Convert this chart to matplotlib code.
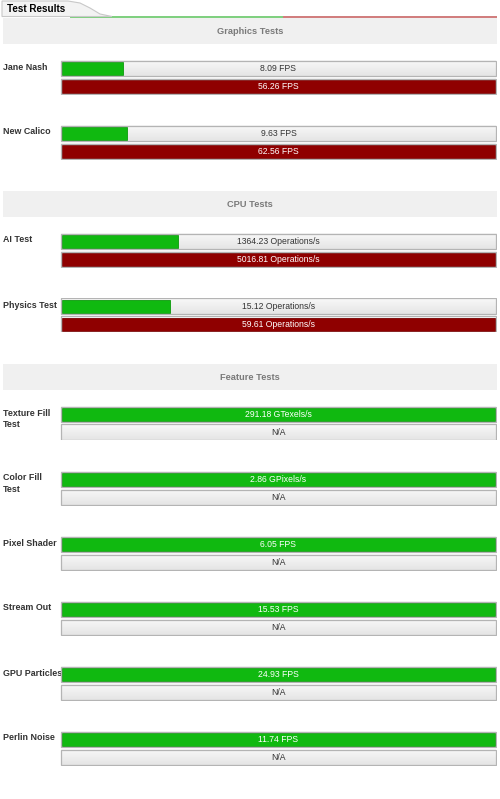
import matplotlib
matplotlib.use("Agg")
import matplotlib.pyplot as plt
import numpy as np
from matplotlib.patches import Polygon, Rectangle

# ---------------- data ----------------
title = "Test Results"
sections = ["Graphics Tests", "CPU Tests", "Feature Tests"]

graphics_tests = ["Jane Nash", "New Calico"]
graphics_yours = [8.09, 9.63]
graphics_ref = [56.26, 62.56]
graphics_units = ["FPS", "FPS"]

cpu_tests = ["AI Test", "Physics Test"]
cpu_yours = [1364.23, 15.12]
cpu_ref = [5016.81, 59.61]
cpu_units = ["Operations/s", "Operations/s"]

feature_tests = ["Texture Fill\nTest", "Color Fill\nTest", "Pixel Shader",
                 "Stream Out", "GPU Particles", "Perlin Noise"]
feature_yours = [291.18, 2.86, 6.05, 15.53, 24.93, 11.74]
feature_ref = [None, None, None, None, None, None]
feature_units = ["GTexels/s", "GPixels/s", "FPS", "FPS", "FPS", "FPS"]

groups = [
    (sections[0], graphics_tests, graphics_yours, graphics_ref, graphics_units),
    (sections[1], cpu_tests, cpu_yours, cpu_ref, cpu_units),
    (sections[2], feature_tests, feature_yours, feature_ref, feature_units),
]

# ---------------- style ----------------
W, H = 500, 799
FONT = ["Liberation Sans", "DejaVu Sans"]
GREEN = "#10b910"
GREEN_EDGE = "#0b9a0b"
RED = "#8f0000"
RED_EDGE = "#7a0000"
TRACK_EDGE = "#b4b4b4"
HEADER_BG = "#f0f0f0"
TRACK_X0, TRACK_X1 = 61, 496
BAR_H = 15.5
BAR_GAP = 2.5

plt.rcParams["font.family"] = FONT

fig = plt.figure(figsize=(W / 100, H / 100), dpi=100)
fig.patch.set_facecolor("white")
base = fig.add_axes([0, 0, 1, 1])
base.set_xlim(0, W)
base.set_ylim(H, 0)
base.axis("off")

# ---------------- tab header ----------------
tab_poly = Polygon([(2, 16.5), (2, 1), (68, 1), (80, 3), (90, 8), (100, 14), (112, 16.5)],
                   closed=True, facecolor="#f3f3f3", edgecolor="#c8c8c8", lw=0.8, zorder=2)
base.add_patch(tab_poly)
base.text(7, 8.5, title, fontsize=7.1, fontweight="bold", color="#000000",
          va="center", ha="left", zorder=3)
base.plot([70, 283], [16.5, 16.5], color="#7dcf7d", lw=1.4, solid_capstyle="butt", zorder=1)
base.plot([283, 497], [16.5, 16.5], color="#d07b7b", lw=1.4, solid_capstyle="butt", zorder=1)

grad = np.linspace(0, 1, 32).reshape(-1, 1)
track_cmap = matplotlib.colors.LinearSegmentedColormap.from_list("t", ["#f8f8f8", "#e5e5e5"])


def track(ax, xmax, yc):
    top, bot = yc - BAR_H / 2, yc + BAR_H / 2
    ax.imshow(grad, extent=(0, xmax, bot, top), cmap=track_cmap, aspect="auto",
              zorder=1, interpolation="bilinear")
    ax.add_patch(Rectangle((0, top), xmax, BAR_H, facecolor="none",
                           edgecolor=TRACK_EDGE, lw=0.9, zorder=3))


def fill_bar(ax, value, yc, px, color, edge):
    ax.barh(yc, value - 2 * px, left=px, height=BAR_H - 2.5,
            color=color, edgecolor=edge, lw=0.6, zorder=2)


y = 18
for gi, (sec, names, yours, refs, units) in enumerate(groups):
    base.add_patch(Rectangle((3, y), 494, 26, facecolor=HEADER_BG, edgecolor="none", zorder=1))
    base.text(250, y + 13.5, sec, fontsize=6.7, fontweight="bold", color="#7a7a7a",
              ha="center", va="center", zorder=2)
    row_top = y + 42
    for i, (name, v, r, u) in enumerate(zip(names, yours, refs, units)):
        rt = row_top + i * 65
        base.text(3, rt + 2.5, name, fontsize=6.4, fontweight="bold", color="#333333",
                  ha="left", va="top", linespacing=1.35, zorder=2)
        vmax = max(v, r) if r is not None else v
        total_h = 2 * BAR_H + BAR_GAP + 1
        span = TRACK_X1 - TRACK_X0
        px = vmax / span
        ax = fig.add_axes([(TRACK_X0 - 1) / W, 1 - (rt + total_h) / H,
                           (span + 2) / W, total_h / H])
        ax.set_xlim(-px, vmax + px)
        ax.set_ylim(total_h, 0)
        ax.axis("off")
        ax.patch.set_alpha(0)
        yc1 = BAR_H / 2 + 0.5
        yc2 = BAR_H + BAR_GAP + BAR_H / 2 + 0.5
        track(ax, vmax, yc1)
        track(ax, vmax, yc2)
        fill_bar(ax, v, yc1, px, GREEN, GREEN_EDGE)
        full_green = v >= vmax
        ax.text(vmax / 2, yc1 + 0.5, f"{v:.2f} {u}", fontsize=6.2,
                color="white" if full_green else "#333333",
                ha="center", va="center", zorder=4)
        if r is not None:
            fill_bar(ax, r, yc2, px, RED, RED_EDGE)
            ax.text(vmax / 2, yc2 + 0.5, f"{r:.2f} {u}", fontsize=6.2, color="white",
                    ha="center", va="center", zorder=4)
        else:
            ax.text(vmax / 2, yc2 + 0.5, "N/A", fontsize=6.2, color="#333333",
                    ha="center", va="center", zorder=4)
    last_top = row_top + (len(names) - 1) * 65
    y = last_top + 66

fig.savefig("out.png", dpi=100, facecolor="white")
